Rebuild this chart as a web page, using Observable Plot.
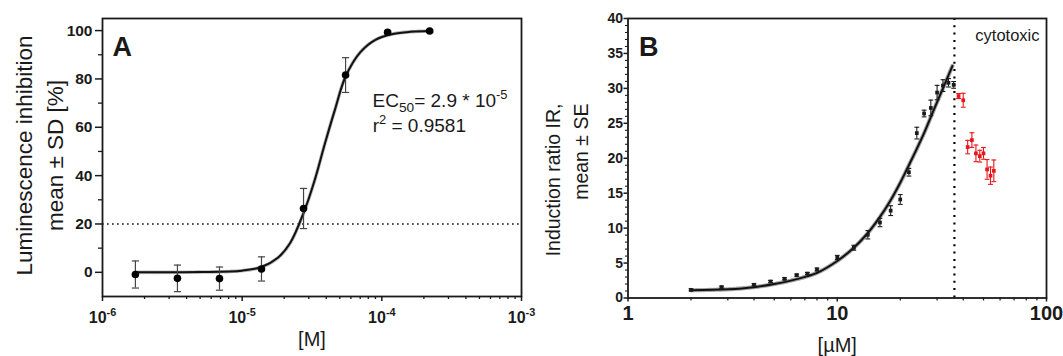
<!DOCTYPE html>
<html><head><meta charset="utf-8">
<script src="https://cdn.jsdelivr.net/npm/d3@7"></script>
<script src="https://cdn.jsdelivr.net/npm/@observablehq/plot@0.6"></script>
<style>
body{margin:0;background:#fff;}
#wrap{position:relative;width:1063px;height:356px;overflow:hidden;background:#fff;}
#a{position:absolute;left:0;top:0;width:530px;height:356px;}
#b{position:absolute;left:530px;top:0;width:533px;height:356px;}
</style></head><body><div id="wrap"><div id="a"></div><div id="b"></div></div>
<script>
// ---------- Panel A data ----------
const concA = [1.72e-6, 3.44e-6, 6.88e-6, 1.375e-5, 2.75e-5, 5.5e-5, 1.1e-4, 2.2e-4];
const meanA = [-0.9, -2.5, -2.6, 1.4, 26.4, 81.6, 99.3, 99.8];
const sdA   = [5.6, 5.5, 4.8, 5.0, 8.3, 7.2, 0.5, 0.5];
const curveAx = [1.72e-6, 5e-6, 1e-5, 1.375e-5, 1.8e-5, 2.2e-5, 2.75e-5, 3.3e-5, 3.9e-5, 4.6e-5, 5.5e-5, 7e-5, 9e-5, 1.2e-4, 1.6e-4, 2.2e-4];
const curveAy = [0, 0.1, 0.7, 2.2, 6, 12, 24.5, 38, 53, 67, 81, 91, 96.2, 98.6, 99.5, 99.8];
const xTicksA = [1e-6, 1e-5, 1e-4, 1e-3];
const yTicksA = [0, 20, 40, 60, 80, 100];
const yMinorA = [10, 30, 50, 70, 90];
const thresholdA = 20;
const ec50Text = "EC_{50}= 2.9 * 10^{-5}";
const r2Text = "r^{2} = 0.9581";

// ---------- Panel B data ----------
const concB = [2, 2.8, 4, 4.8, 5.6, 6.4, 7.2, 8, 10, 12, 14, 16, 18, 20, 22, 24, 26, 28, 30, 32, 34, 36];
const irB   = [1.17, 1.55, 1.89, 2.36, 2.75, 3.27, 3.5, 4.08, 5.8, 7.19, 9.05, 10.8, 12.5, 14.1, 18.0, 23.6, 26.4, 27.2, 29.4, 30.4, 30.8, 30.5];
const seB   = [0.15, 0.15, 0.15, 0.15, 0.15, 0.15, 0.15, 0.2, 0.3, 0.35, 0.6, 0.6, 0.7, 0.7, 0.55, 0.84, 0.48, 1.12, 1.03, 0.84, 0.6, 0.48];
const concBtox = [38, 40, 42, 44, 46, 48, 50, 52, 54, 56];
const irBtox   = [28.9, 28.3, 21.6, 22.6, 20.7, 20.3, 20.7, 18.4, 17.5, 18.2];
const seBtox   = [0.36, 1.0, 0.96, 1.05, 1.19, 0.84, 0.84, 1.41, 1.24, 1.55];
const curveBx = [2, 3, 4, 5, 6.4, 8, 10, 12, 14, 16, 18, 20, 22, 26, 29, 32, 35.5];
const curveBy = [1.1, 1.25, 1.55, 2.0, 2.7, 3.6, 5.3, 7.2, 9.3, 11.6, 14.0, 16.5, 19.0, 23.6, 27.0, 30.0, 33.2];
const cytotoxicAt = 36.3;
const xTicksB = [1, 10, 100];
const yTicksB = [0, 5, 10, 15, 20, 25, 30, 35, 40];

const minorLog = (decades) => decades.slice(0, -1).flatMap(d => [2,3,4,5,6,7,8,9].map(k => k * d));
const yMinorB = d3.range(0, 41).filter(v => v % 5 !== 0);

const FONT = "'Liberation Sans', Arial, sans-serif";
const INK = "#1a1a1a";
const RED = "#e8161b";
const cap = {draw(ctx, size) { const r = Math.sqrt(size / Math.PI); ctx.moveTo(-r, 0); ctx.lineTo(r, 0); }};

const rowsA = concA.map((x, i) => ({x, y: meanA[i], lo: meanA[i] - sdA[i], hi: meanA[i] + sdA[i]}));
const curveA = curveAx.map((x, i) => ({x, y: curveAy[i]}));
const rowsB = concB.map((x, i) => ({x, y: irB[i], lo: irB[i] - seB[i], hi: irB[i] + seB[i], c: INK}))
  .concat(concBtox.map((x, i) => ({x, y: irBtox[i], lo: irBtox[i] - seBtox[i], hi: irBtox[i] + seBtox[i], c: RED})));
const curveB = curveBx.map((x, i) => ({x, y: curveBy[i]}));

const common = {style: {fontFamily: FONT, background: "transparent", overflow: "visible", maxWidth: "none", color: INK}};

const plotA = Plot.plot({
  ...common,
  width: 530, height: 356,
  marginLeft: 102, marginRight: 9, marginTop: 18, marginBottom: 60,
  x: {type: "log", domain: [1e-6, 1e-3], label: null},
  y: {domain: [-10, 105], label: null},
  marks: [
    Plot.ruleY([thresholdA], {stroke: INK, strokeWidth: 1.7, strokeDasharray: "1.7,3.3"}),
    Plot.line(curveA, {x: "x", y: "y", curve: "catmull-rom", stroke: "#b5b5b5", strokeWidth: 3.6, strokeDasharray: "0.8,1.6"}),
    Plot.line(curveA, {x: "x", y: "y", curve: "catmull-rom", stroke: "#111", strokeWidth: 2}),
    Plot.ruleX(rowsA, {x: "x", y1: "lo", y2: "hi", stroke: "#444", strokeWidth: 1.2}),
    Plot.dot(rowsA, {x: "x", y: "lo", symbol: cap, r: 3.6, stroke: "#444", strokeWidth: 1.2, fill: "none"}),
    Plot.dot(rowsA, {x: "x", y: "hi", symbol: cap, r: 3.6, stroke: "#444", strokeWidth: 1.2, fill: "none"}),
    Plot.dot(rowsA, {x: "x", y: "y", r: 3.8, fill: "#000", stroke: "none"}),
    Plot.frame({stroke: INK, strokeWidth: 1.8}),
    Plot.axisX({ticks: xTicksA, tickSize: 5, tickPadding: 10, tickFormat: d => `10^{${Math.round(Math.log10(d))}}`, label: null, strokeWidth: 1.5}),
    Plot.axisX({ticks: minorLog(xTicksA), tickSize: 3, tickFormat: () => "", label: null, strokeWidth: 1.3}),
    Plot.axisY({ticks: yTicksA, tickSize: 7, tickPadding: 3, label: null, strokeWidth: 1.5}),
    Plot.axisY({ticks: yMinorA, tickSize: 4, tickFormat: () => "", label: null, strokeWidth: 1.3}),
    Plot.text(["A"], {frameAnchor: "top-left", dx: 10, dy: 37.5, text: d => d, fontSize: 27, fontWeight: "bold", textAnchor: "start", lineAnchor: "bottom"}),
    Plot.text([ec50Text], {x: 8.58e-5, y: 68.3, text: d => d, fontSize: 19, textAnchor: "start", lineAnchor: "bottom"}),
    Plot.text([r2Text], {x: 8.6e-5, y: 58.0, text: d => d, fontSize: 19, textAnchor: "start", lineAnchor: "bottom"}),
    Plot.text(["Luminescence inhibition\nmean ± SD [%]"], {frameAnchor: "left", dx: -65, dy: -2, text: d => d, rotate: -90, fontSize: 22.5, lineHeight: 1.38, textAnchor: "middle", lineAnchor: "middle"}),
    Plot.text(["[M]"], {frameAnchor: "bottom", dy: 49, text: d => d, fontSize: 20, lineAnchor: "bottom"})
  ]
});

const plotB = Plot.plot({
  ...common,
  width: 533, height: 356,
  marginLeft: 97.5, marginRight: 17, marginTop: 18, marginBottom: 58.5,
  x: {type: "log", domain: [1, 100], label: null},
  y: {domain: [0, 40], label: null},
  marks: [
    Plot.ruleX([cytotoxicAt], {stroke: "#000", strokeWidth: 2.2, strokeDasharray: "2,5.3"}),
    Plot.line(curveB, {x: "x", y: "y", curve: "catmull-rom", stroke: "#a5a5a5", strokeWidth: 4.2, strokeDasharray: "0.9,1.6"}),
    Plot.line(curveB, {x: "x", y: "y", curve: "catmull-rom", stroke: "#111", strokeWidth: 2}),
    Plot.ruleX(rowsB, {x: "x", y1: "lo", y2: "hi", stroke: "c", strokeWidth: 1.1}),
    Plot.dot(rowsB, {x: "x", y: "lo", symbol: cap, r: 2.4, stroke: "c", strokeWidth: 1.1, fill: "none"}),
    Plot.dot(rowsB, {x: "x", y: "hi", symbol: cap, r: 2.4, stroke: "c", strokeWidth: 1.1, fill: "none"}),
    Plot.dot(rowsB, {x: "x", y: "y", symbol: "square", r: 2.1, fill: "c", stroke: "none"}),
    Plot.frame({stroke: INK, strokeWidth: 1.8}),
    Plot.axisX({ticks: xTicksB, tickSize: 4, tickPadding: 4, tickFormat: d => String(d), label: null, strokeWidth: 1.5}),
    Plot.axisX({ticks: minorLog(xTicksB), tickSize: 3, tickFormat: () => "", label: null, strokeWidth: 1.2}),
    Plot.axisY({ticks: yTicksB, tickSize: 4, tickPadding: 1, label: null, strokeWidth: 1.5}),
    Plot.axisY({ticks: yMinorB, tickSize: 2.5, tickFormat: () => "", label: null, strokeWidth: 1.1}),
    Plot.text(["B"], {frameAnchor: "top-left", dx: 11, dy: 37, text: d => d, fontSize: 27, fontWeight: "bold", textAnchor: "start", lineAnchor: "bottom"}),
    Plot.text(["cytotoxic"], {frameAnchor: "top-right", dx: -7, dy: 22, text: d => d, fontSize: 16.5, textAnchor: "end", lineAnchor: "bottom"}),
    Plot.text(["Induction ratio IR,\nmean ± SE"], {frameAnchor: "top-left", dx: -63.3, dy: 85, text: d => d, rotate: -90, fontSize: 19.5, lineHeight: 1.48, textAnchor: "end", lineAnchor: "middle"}),
    Plot.text(["[µM]"], {frameAnchor: "bottom", dy: 54, text: d => d, fontSize: 20, lineAnchor: "bottom"})
  ]
});

document.getElementById("a").appendChild(plotA);
document.getElementById("b").appendChild(plotB);

// tick label styling
function styleTicks(svg, axis, size) {
  d3.select(svg).selectAll("g").filter(function() {
    const l = this.getAttribute("aria-label") || "";
    return l.startsWith(axis) && l.includes("tick label");
  }).each(function() {
    d3.select(this).attr("font-size", size).attr("font-weight", "bold")
      .style("font-size", size + "px").style("font-weight", "bold")
      .selectAll("text").style("font-size", size + "px").style("font-weight", "bold");
  });
}
styleTicks(plotA, "x", 16); styleTicks(plotA, "y", 15.5);
styleTicks(plotB, "x", 20); styleTicks(plotB, "y", 14);

// rich text: ^{...} superscript, _{...} subscript
function richText(svg) {
  d3.select(svg).selectAll("text").each(function() {
    if (this.querySelector("tspan")) return;
    const t = this.textContent;
    if (!/[\^_]\{/.test(t)) return;
    const fs = parseFloat(getComputedStyle(this).fontSize) || 14;
    const parts = [];
    const re = /([\^_])\{([^}]*)\}/g;
    let last = 0, m;
    while ((m = re.exec(t))) {
      if (m.index > last) parts.push({s: t.slice(last, m.index), k: ""});
      parts.push({s: m[2], k: m[1]});
      last = re.lastIndex;
    }
    if (last < t.length) parts.push({s: t.slice(last), k: ""});
    const el = d3.select(this).text(null);
    let off = 0;
    for (const p of parts) {
      const target = p.k === "^" ? -0.42 * fs : p.k === "_" ? 0.25 * fs : 0;
      const ts = el.append("tspan").text(p.s);
      if (target !== off) ts.attr("dy", target - off);
      if (p.k) ts.style("font-size", ((p.k === "^" ? 0.68 : 0.72) * fs) + "px");
      off = target;
    }
  });
}
richText(plotA); richText(plotB);
</script></body></html>
